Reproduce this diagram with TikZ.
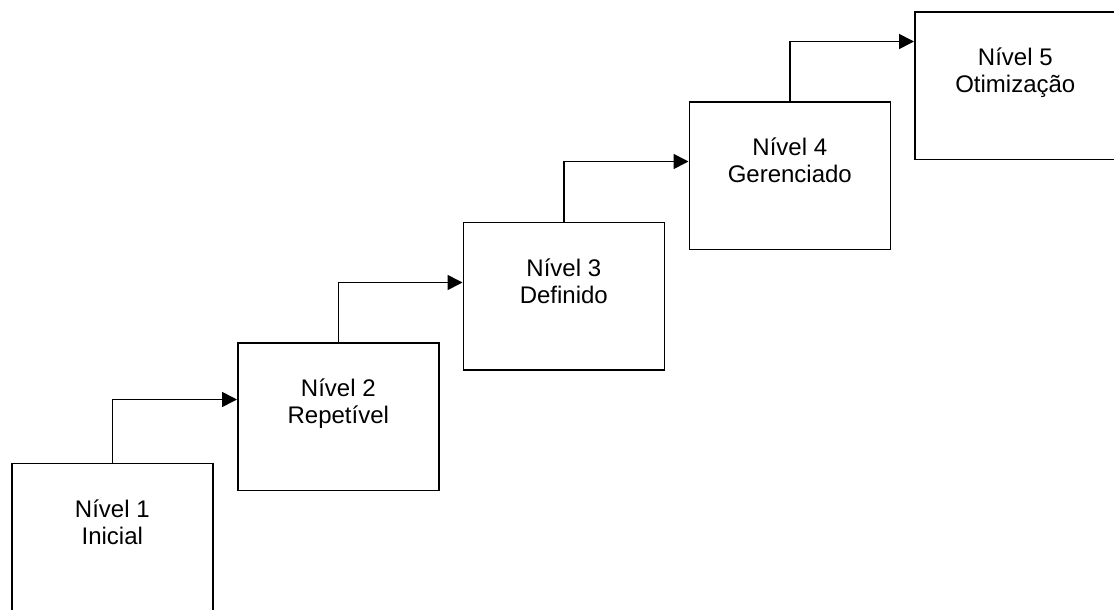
\documentclass[tikz,border=0pt]{standalone}
\usepackage{fontspec}
\setmainfont{Liberation Sans}
\usetikzlibrary{arrows.meta}

\tikzset{
  levelbox/.style={draw, line width=1.6pt, rectangle, inner sep=0pt,
    minimum width=201pt, minimum height=147.5pt, anchor=north west},
  % anchor base of a two-line node sits on its last line
  leveltext/.style={align=center, inner sep=0pt, anchor=base,
    font=\fontsize{24}{27}\selectfont},
  stepline/.style={line width=1.6pt,
    -{Triangle[length=15pt,width=15pt]}},
}

\begin{document}
\begin{tikzpicture}[x=1pt, y=-1pt]
  \useasboundingbox (0,0) rectangle (1114,610);

  % the five maturity levels, rising left to right
  \node[levelbox] (b1) at (11,462.5) {};
  \node[levelbox] (b2) at (237,342) {};
  \node[levelbox] (b3) at (462.5,221.5) {};
  \node[levelbox] (b4) at (688.5,101) {};
  \node[levelbox] (b5) at (914,11) {};

  \node[leveltext] (t1) at ([yshift=-81.5pt]b1.north) {Nível 1\\Inicial};
  \node[leveltext] (t2) at ([yshift=-81.5pt]b2.north) {Nível 2\\Repetível};
  \node[leveltext] (t3) at ([yshift=-81.5pt]b3.north) {Nível 3\\Definido};
  \node[leveltext] (t4) at ([yshift=-81.5pt]b4.north) {Nível 4\\Gerenciado};
  \node[leveltext] (t5) at ([yshift=-81.5pt]b5.north) {Nível 5\\Otimização};

  % step connectors: up from each box, then right into the next
  \draw[stepline] (b1.north) -- ++(0,-63) coordinate (k1) -- (k1 -| b2.west);
  \draw[stepline] (b2.north) -- ++(0,-59.5) coordinate (k2) -- (k2 -| b3.west);
  \draw[stepline] (b3.north) -- ++(0,-60) coordinate (k3) -- (k3 -| b4.west);
  \draw[stepline] (b4.north) -- ++(0,-59.5) coordinate (k4) -- (k4 -| b5.west);
\end{tikzpicture}
\end{document}
